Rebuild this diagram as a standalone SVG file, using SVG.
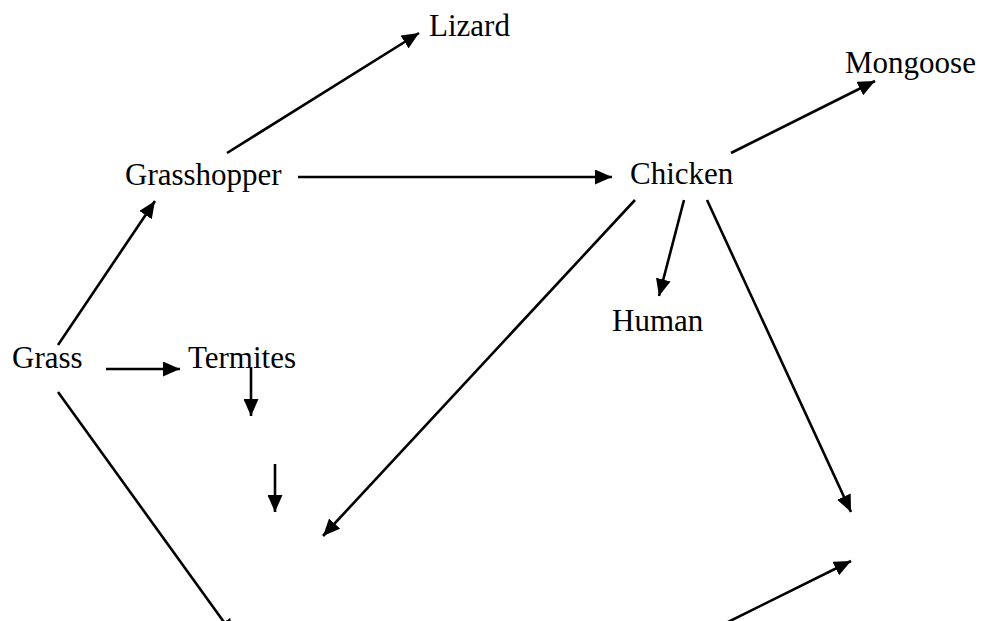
<svg xmlns="http://www.w3.org/2000/svg" width="983" height="621" viewBox="0 0 983 621">
<defs>
<style>
.lbl{font-family:"Liberation Serif","Times New Roman",serif;font-size:31px;fill:#000}
.c{stroke:#000;stroke-width:2.6;fill:none;marker-end:url(#ah)}
</style>
<marker id="ah" markerUnits="userSpaceOnUse" markerWidth="18" markerHeight="15" refX="17" refY="7.5" orient="auto">
<path d="M0,0 L17,7.5 L0,15 z" fill="#000"/>
</marker>
</defs>
<rect width="983" height="621" fill="#fff"/>
<g id="connectors">
<line class="c" x1="58" y1="345" x2="155" y2="201"/>
<line class="c" x1="227" y1="153" x2="419" y2="33"/>
<line class="c" x1="298" y1="177" x2="612" y2="177"/>
<line class="c" x1="731" y1="153" x2="875" y2="81"/>
<line class="c" x1="684" y1="200" x2="659" y2="296"/>
<line class="c" x1="635" y1="200" x2="323" y2="536"/>
<line class="c" x1="707" y1="200" x2="851" y2="512"/>
<line class="c" x1="726" y1="623" x2="851" y2="561"/>
<line class="c" x1="58" y1="392" x2="234" y2="636"/>
<line class="c" x1="106" y1="369" x2="180" y2="369"/>
<line class="c" x1="251" y1="368" x2="251" y2="416"/>
<line class="c" x1="275" y1="464" x2="275" y2="512"/>
</g>
<g id="lizard"><text class="lbl" x="429" y="36">Lizard</text></g>
<g id="mongoose"><text class="lbl" x="845" y="73">Mongoose</text></g>
<g id="grasshopper"><text class="lbl" x="125" y="185">Grasshopper</text></g>
<g id="chicken"><text class="lbl" x="630" y="184">Chicken</text></g>
<g id="human"><text class="lbl" x="612" y="331">Human</text></g>
<g id="grass"><text class="lbl" x="12" y="368">Grass</text></g>
<g id="termites"><text class="lbl" x="188" y="368">Termites</text></g>
</svg>
